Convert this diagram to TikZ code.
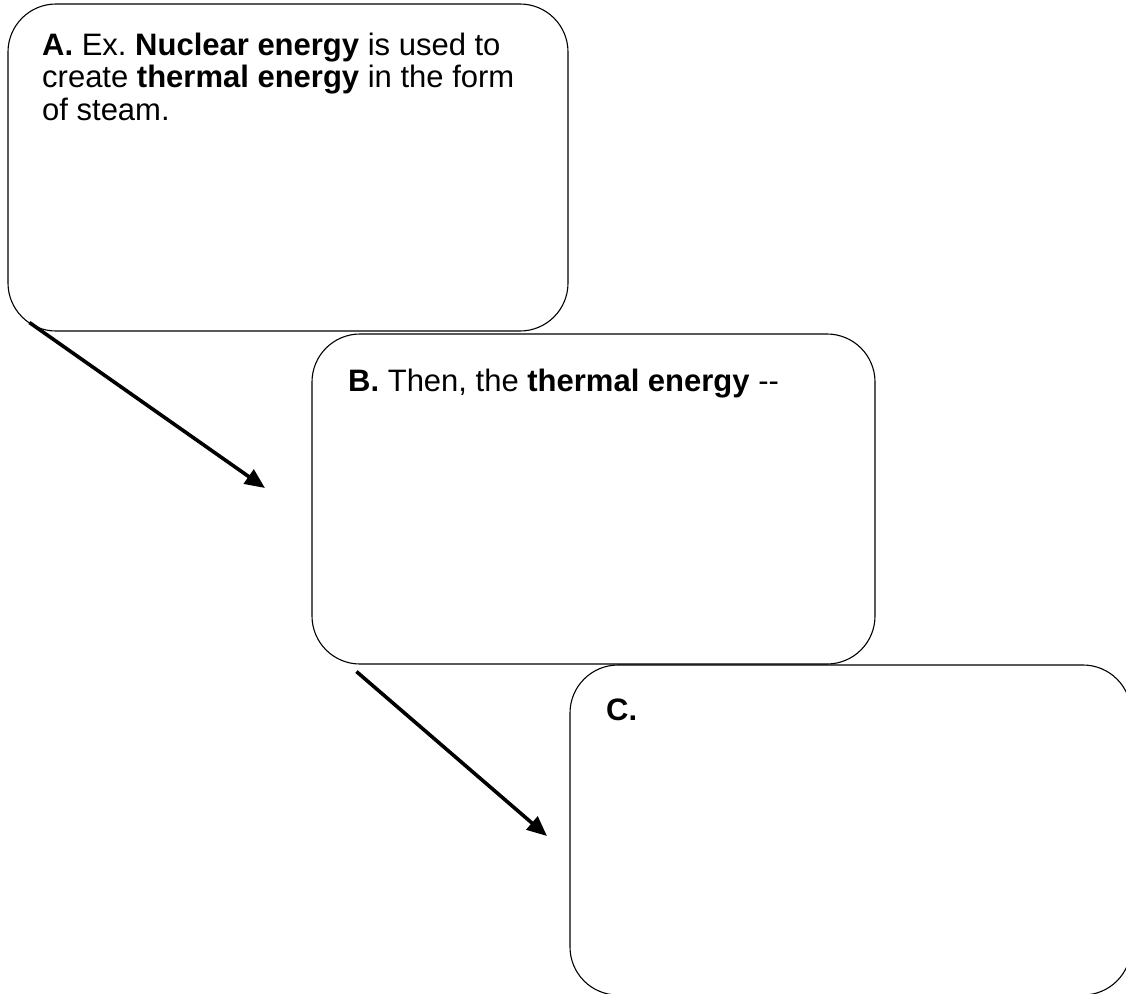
\documentclass[tikz,border=0pt]{standalone}
\usepackage{fontspec}
\setmainfont{Liberation Sans}
\usetikzlibrary{arrows.meta}
\frenchspacing
\begin{document}
\begin{tikzpicture}[x=1pt,y=-1pt,
  card/.style={draw=black,line width=1.1pt,rounded corners=48pt,shape=rectangle,inner sep=0pt},
  cardtext/.style={anchor=base west,inner sep=0pt,align=left,font=\fontsize{31}{32.5}\selectfont},
  flow/.style={line width=3.6pt,-{Triangle[length=20pt,width=17pt]}}]
\useasboundingbox (0,0) rectangle (1126,993);
\node[card,minimum width=560pt,minimum height=327pt] (boxA) at (288,167.5) {};
\node[card,minimum width=563pt,minimum height=330pt] (boxB) at (593.5,499) {};
\node[card,minimum width=561pt,minimum height=330pt] (boxC) at (850.5,830) {};
\node[cardtext] (textA) at (42,120) {\textbf{A.} Ex. \textbf{Nuclear energy} is used to\\create \textbf{thermal energy} in the form\\of steam.};
\node[cardtext] (textB) at (348,391) {\textbf{B.} Then, the \textbf{thermal energy} -{}-};
\node[cardtext] (textC) at (606,720) {\textbf{C.}};
\coordinate (a1) at ([shift={(22,-9)}]boxA.south west);
\coordinate (a1end) at (265,488);
\coordinate (b1) at ([shift={(45pt,-7pt)}]boxB.south west);
\coordinate (b1end) at (547,836);
\draw[flow] (a1) -- (a1end);
\draw[flow] (b1) -- (b1end);
\end{tikzpicture}
\end{document}
